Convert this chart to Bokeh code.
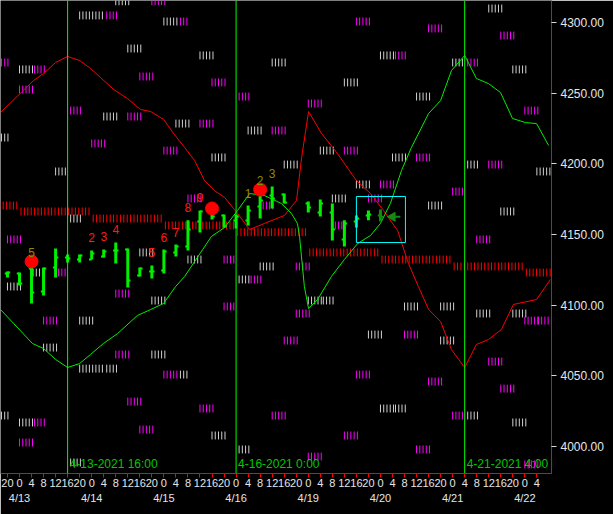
import numpy as np
from bokeh.plotting import figure
from bokeh.models import Range1d, FixedTicker, LinearAxis, Span, Label, PrintfTickFormatter
from bokeh.core.properties import value
from bokeh.embed import file_html
from bokeh.resources import INLINE

# ---------------- data ----------------
# 4h OHLC bars (x = trading hours since 4/13 0:00, weekends removed)
bar_hours = [-4, 0, 4, 8, 12, 16, 20, 24, 28, 32, 36, 40, 44, 48, 52, 56, 60, 64, 68, 72, 76, 80, 84, 88,
             96, 100, 104, 108, 112, 116, 120]
bar_open = [4122.4, 4122.4, 4126.0, 4109.7, 4126.7, 4133.7, 4132.3, 4132.3, 4134.4, 4138.7, 4139.4, 4121.0,
            4123.8, 4124.5, 4137.3, 4141.5, 4159.2, 4165.6, 4163.5, 4159.9, 4159.9, 4169.8, 4177.6, 4178.3,
            4172.0, 4165.6, 4165.6, 4146.5, 4159.2, 4163.5, 4163.5]
bar_high = [4123.8, 4123.1, 4128.8, 4126.7, 4140.1, 4135.8, 4135.8, 4138.7, 4139.4, 4144.3, 4140.1, 4126.7,
            4128.1, 4139.4, 4143.0, 4160.0, 4167.0, 4170.5, 4164.2, 4164.2, 4170.5, 4177.6, 4184.0, 4179.0,
            4173.4, 4174.8, 4172.0, 4160.0, 4163.5, 4167.0, 4167.7]
bar_low = [4119.6, 4113.9, 4101.2, 4106.8, 4119.6, 4130.2, 4130.2, 4132.3, 4133.7, 4129.5, 4112.5, 4120.3,
           4118.9, 4122.4, 4134.4, 4138.7, 4151.4, 4160.6, 4155.0, 4154.3, 4156.4, 4161.3, 4168.4, 4171.9,
           4165.6, 4162.7, 4145.8, 4141.5, 4155.0, 4160.0, 4159.2]
bar_close = [4123.1, 4115.3, 4109.0, 4126.0, 4133.7, 4133.0, 4135.1, 4136.6, 4138.0, 4138.7, 4117.5, 4126.0,
             4123.8, 4138.0, 4141.5, 4153.5, 4166.3, 4162.7, 4155.7, 4162.7, 4167.0, 4174.1, 4175.5, 4172.6,
             4169.1, 4172.0, 4153.5, 4157.8, 4161.3, 4164.2, 4162.5]

# red indicator line
red_h = [-6.3, 4.7, 8.0, 12.0, 16.0, 20.0, 23.6, 26.9, 31.3, 35.9, 40.2, 43.6, 47.9, 51.2, 54.9, 58.2, 61.5,
         64.8, 68.2, 72.5, 76.5, 81.4, 88.1, 92.1, 93.8, 96.1, 100.4, 105.7, 112.0, 116.7, 121.0, 125.7,
         129.3, 132.6, 136.0, 140.0, 143.6, 148.0, 151.9, 155.9, 160.2, 164.2, 171.9, 176.5]
red_p = [4236.3, 4259.0, 4263.9, 4271.7, 4276.0, 4273.1, 4267.5, 4261.1, 4252.6, 4246.2, 4238.5, 4237.0,
         4231.4, 4221.5, 4211.6, 4202.4, 4188.2, 4181.1, 4176.2, 4164.9, 4153.5, 4157.8, 4163.5, 4174.1,
         4204.5, 4237.0, 4221.5, 4207.3, 4188.2, 4179.0, 4167.0, 4152.8, 4129.5, 4113.2, 4097.0, 4088.4,
         4068.6, 4055.9, 4072.2, 4075.7, 4082.8, 4100.5, 4104.0, 4118.2]

# green indicator line
grn_h = [-6.3, 4.3, 8.0, 12.0, 16.0, 20.0, 23.6, 27.9, 32.6, 39.2, 43.6, 47.9, 51.9, 54.9, 63.8, 68.2, 72.5,
         76.5, 81.4, 87.1, 90.4, 92.4, 93.1, 94.7, 96.1, 99.1, 103.7, 108.0, 112.4, 116.7, 120.0, 123.3,
         127.0, 130.3, 136.0, 140.0, 143.6, 148.0, 151.9, 155.9, 159.9, 163.9, 168.2, 171.9, 175.9]
grn_p = [4096.9, 4072.9, 4069.3, 4061.6, 4055.9, 4058.7, 4065.1, 4072.9, 4079.9, 4092.7, 4096.9, 4101.2,
         4113.2, 4120.3, 4148.6, 4155.0, 4167.0, 4179.0, 4177.6, 4171.9, 4164.9, 4157.8, 4148.6, 4113.2,
         4097.6, 4104.0, 4120.3, 4132.3, 4143.6, 4149.3, 4157.8, 4172.0, 4195.3, 4211.6, 4235.6, 4244.8,
         4266.0, 4276.7, 4260.4, 4256.8, 4250.5, 4232.1, 4229.2, 4228.5, 4213.0]

# daily red step level (one per trading day, day index -1 .. 7)
step_days = [-1, 0, 1, 2, 3, 4, 5, 6, 7]
step_level = [4170.5, 4166.3, 4161.3, 4156.4, 4151.6, 4137.3, 4132.3, 4127.4, 4123.1]

# tick groups: start hour, price, number of ticks, colour code
grp_hour = [32, 44, 20, 29, 48, 53.5, 112, 156, 136, 160, 36, 60, 120, 125, -6, 84, 144, 149, 0, 5, 164, 40,
            64, 108, 0, 73, 132, 96, 17, 168, 28, 36, 52, 60, -6, 76, 84, 24, 48, 100, 108, 64, 124, 132, 12,
            88, 149, 156, 172, 112, 120, 144, 56, 104, 116, 81, 136, 160, 17, 105,
            -4, 152, 40, 56, 68, 80, 92, 4.5, 13, 73, 77, -4, 32, 44, 96, 101, 68, 128, 140, 92, 152, 164, 8,
            20, 168, 172.5, 116, 128, 88, 140, 8, 32, 44, 156, 20, 29, 48, 53.5, 112, 136, 160, 36, 60, 120,
            125, -6, 84, 144, 149, 0, 5, 164, 40, 64, 108, 0, 73, 132, 96, 17, 168]
grp_price = [4315.0, 4315.0, 4305.0, 4305.0, 4300.7, 4300.7, 4300.7, 4309.9, 4295.8, 4290.8, 4281.6, 4276.7,
             4276.7, 4276.7, 4271.7, 4271.7, 4271.7, 4271.7, 4266.8, 4266.8, 4266.8, 4261.8, 4257.6, 4257.6,
             4252.6, 4247.6, 4247.6, 4242.7, 4237.7, 4237.7, 4233.5, 4233.5, 4228.5, 4228.5, 4218.6, 4223.6,
             4223.6, 4214.4, 4209.4, 4209.4, 4209.4, 4204.5, 4204.5, 4204.5, 4194.6, 4199.5, 4199.5, 4199.5,
             4194.6, 4185.4, 4185.4, 4180.4, 4175.5, 4175.5, 4175.5, 4170.5, 4170.5, 4166.3, 4161.3, 4156.4,
             4146.5, 4146.5, 4137.3, 4132.3, 4132.3, 4127.4, 4127.4, 4123.1, 4123.1, 4118.2, 4118.2, 4113.2,
             4108.2, 4103.3, 4103.3, 4103.3, 4099.1, 4099.1, 4099.1, 4094.1, 4094.1, 4094.1, 4089.1, 4089.1,
             4089.1, 4089.1, 4079.2, 4079.2, 4075.0, 4075.0, 4070.0, 4065.1, 4065.1, 4060.1, 4055.1, 4055.1,
             4050.9, 4050.9, 4050.9, 4046.0, 4041.0, 4031.8, 4026.9, 4026.9, 4026.9, 4021.9, 4021.9, 4021.9,
             4021.9, 4017.0, 4017.0, 4017.0, 4012.0, 4007.8, 4007.8, 4002.8, 3997.9, 3997.9, 3992.9, 3988.7,
             3987.3]
grp_count = [5, 5, 8, 4, 5, 3, 5, 5, 5, 5, 5, 5, 5, 4, 3, 5, 4, 4, 5, 4, 5, 5, 5, 5, 5, 4, 5, 5, 4, 5, 5, 5,
             5, 5, 3, 5, 5, 5, 5, 5, 5, 5, 5, 5, 4, 5, 4, 5, 5, 5, 5, 4, 5, 5, 5, 4, 5, 5, 4, 4,
             5, 5, 5, 5, 4, 5, 5, 4, 3, 4, 4, 5, 5, 5, 5, 4, 4, 5, 5, 5, 5, 5, 5, 5, 5, 4, 5, 5, 5, 5, 5, 5,
             5, 5, 8, 4, 5, 3, 5, 5, 5, 5, 5, 5, 4, 3, 5, 4, 4, 5, 4, 5, 5, 5, 5, 5, 4, 5, 5, 4, 5]
grp_color = list("wmwmwmmwmmwwwmmwwmwmwmmwmmwmmmwmwmwwmmmwmwwmwwwmwwmmmwmmwwwm"
                 "mmwwmwmwmwmwmwwwmwwmwwmwmmwmmwwmwmwwmwmmmmmwwwmmwwmwmwmmwmmwmmmm")

# sequence counts and signal dots
cnt_hour = [4, 24, 28, 32, 44, 48, 52, 56, 60, 76, 80, 84]
cnt_price = [4137.3, 4147.9, 4148.6, 4153.5, 4137.3, 4147.9, 4151.4, 4169.1, 4176.2, 4179.0, 4188.2, 4193.2]
cnt_text = ["5", "2", "3", "4", "5", "6", "7", "8", "9", "1", "2", "3"]
cnt_kind = ["o", "r", "r", "r", "r", "r", "r", "r", "r", "o", "o", "o"]
dot_hour = [4, 64, 80]
dot_price = [4130.9, 4168.4, 4181.8]

# vertical markers
vline_hours = [16, 72, 148]
vline_text = ["4-13-2021 16:00", "4-16-2021 0:00", "4-21-2021 4:00"]

# box and arrow
box_hours = [112, 128.3]
box_prices = [4144.3, 4176.9]
arrow_hour = [124.0]

# axis labels
hour_ticks = list(range(-4, 173, 4))
date_ticks = [0, 24, 48, 72, 96, 120, 144, 168]
date_text = ["4/13", "4/14", "4/15", "4/16", "4/19", "4/20", "4/21", "4/22"]
price_ticks = [4000, 4050, 4100, 4150, 4200, 4250, 4300]

# ---------------- figure ----------------
p = figure(frame_width=551, frame_height=473, x_range=Range1d(-6.317, 176.86), y_range=Range1d(3980.9, 4315.57),
           y_axis_location="right", output_backend="svg", toolbar_location=None,
           background_fill_color="black", border_fill_color="black",
           min_border_left=0, min_border_top=0, min_border_right=62, min_border_bottom=41)
p.outline_line_color = None
p.grid.visible = False

TICK_STEP = 1.08
HALF = 2.8

# red daily step drawn as ticks
rx, ry0, ry1 = [], [], []
for d, lv in zip(step_days, step_level):
    t = d * 24 + 0.5
    while t < d * 24 + 24:
        rx.append(t); ry0.append(lv - HALF); ry1.append(lv + HALF)
        t += 1.13
p.segment(x0=rx, x1=rx, y0=ry0, y1=ry1, line_color="#ff0000", line_width=1)

# white / magenta tick groups
cmap = {"w": "#d0d0d0", "m": "#ff00ff"}
gx, gy0, gy1, gc = [], [], [], []
for h, pr, n, c in zip(grp_hour, grp_price, grp_count, grp_color):
    for k in range(n):
        xx = h + k * TICK_STEP
        gx.append(xx); gy0.append(pr - HALF); gy1.append(pr + HALF); gc.append(cmap[c])
p.segment(x0=gx, x1=gx, y0=gy0, y1=gy1, line_color=gc, line_width=1)

# indicator lines
p.line(red_h, red_p, line_color="#ff0000", line_width=1)
p.line(grn_h, grn_p, line_color="#00ee00", line_width=1)

# vertical lines
for h in vline_hours:
    p.add_layout(Span(location=h, dimension="height", line_color="#00ff00", line_width=1))
p.text(x=vline_hours, y=[3987.3] * len(vline_hours), text=vline_text, x_offset=2,
       text_color="#00c800", text_font=value("Liberation Sans"), text_font_size="12px",
       text_baseline="middle", text_align="left")

# OHLC bars
bx = np.array(bar_hours, dtype=float)
bcol = ["#00f000"] * (len(bar_hours) - 1) + ["#138a13"]
p.segment(x0=bx, x1=bx, y0=bar_low, y1=bar_high, line_color=bcol, line_width=3)
p.segment(x0=bx - 0.9, x1=bx, y0=bar_open, y1=bar_open, line_color=bcol, line_width=2)
p.segment(x0=bx, x1=bx + 0.9, y0=bar_close, y1=bar_close, line_color=bcol, line_width=2)

# dots and counts
p.scatter(dot_hour, dot_price, size=13, color="#ff0000")
ccol = ["#ff1a1a" if k == "r" else "#8c8c00" for k in cnt_kind]
p.text(x=cnt_hour, y=cnt_price, text=cnt_text, text_color=ccol, text_font=value("Liberation Sans"),
       text_font_size="12px", text_align="center", text_baseline="middle")

# cyan box and arrow
p.quad(left=[box_hours[0]], right=[box_hours[1]], bottom=[box_prices[0]], top=[box_prices[1]],
       fill_color=None, line_color="#00ffff", line_width=1)
p.segment(x0=arrow_hour, x1=[arrow_hour[0] + 2.6], y0=[bar_close[-1]], y1=[bar_close[-1]],
          line_color="#138a13", line_width=2)
p.scatter(arrow_hour, [bar_close[-1]], marker="triangle", size=9, angle=np.pi / 2, color="#138a13")

# axes
xa = p.xaxis[0]
xa.ticker = FixedTicker(ticks=hour_ticks)
xa.major_label_overrides = {t: str(t % 24) for t in hour_ticks}
xa.axis_line_color = "red"
xa.major_tick_line_color = "red"
xa.major_tick_out = 4
xa.major_tick_in = 0
xa.minor_tick_line_color = None
xa.major_label_text_color = "#e6e6e6"
xa.major_label_text_font = "Liberation Sans"
xa.major_label_text_font_size = "11px"
xa.major_label_standoff = 1

xa2 = LinearAxis(ticker=FixedTicker(ticks=date_ticks),
                 major_label_overrides={t: s for t, s in zip(date_ticks, date_text)},
                 axis_line_color=None, major_tick_line_color=None, minor_tick_line_color=None,
                 major_tick_out=0, major_tick_in=0, major_label_standoff=2,
                 major_label_text_color="#e6e6e6", major_label_text_font="Liberation Sans",
                 major_label_text_font_size="11px")
p.add_layout(xa2, "below")

ya = p.yaxis[0]
ya.ticker = FixedTicker(ticks=price_ticks)
ya.formatter = PrintfTickFormatter(format="%.2f")
ya.axis_line_color = "red"
ya.major_tick_line_color = "#d8d8d8"
ya.major_tick_out = 5
ya.major_tick_in = 0
ya.minor_tick_line_color = None
ya.major_label_text_color = "#e6e6e6"
ya.major_label_text_font = "Liberation Sans"
ya.major_label_text_font_size = "12px"
ya.major_label_standoff = 4

# last price tag
p.add_layout(Label(x=176.86, y=bar_close[-1], text="%.2f" % bar_close[-1], x_offset=1,
                   text_baseline="middle", text_align="left", text_color="black",
                   text_font="Liberation Sans", text_font_size="12px",
                   background_fill_color="#ffff00", border_line_color="#ff0000", padding=2))

open("out.html", "w").write(file_html(p, INLINE))
